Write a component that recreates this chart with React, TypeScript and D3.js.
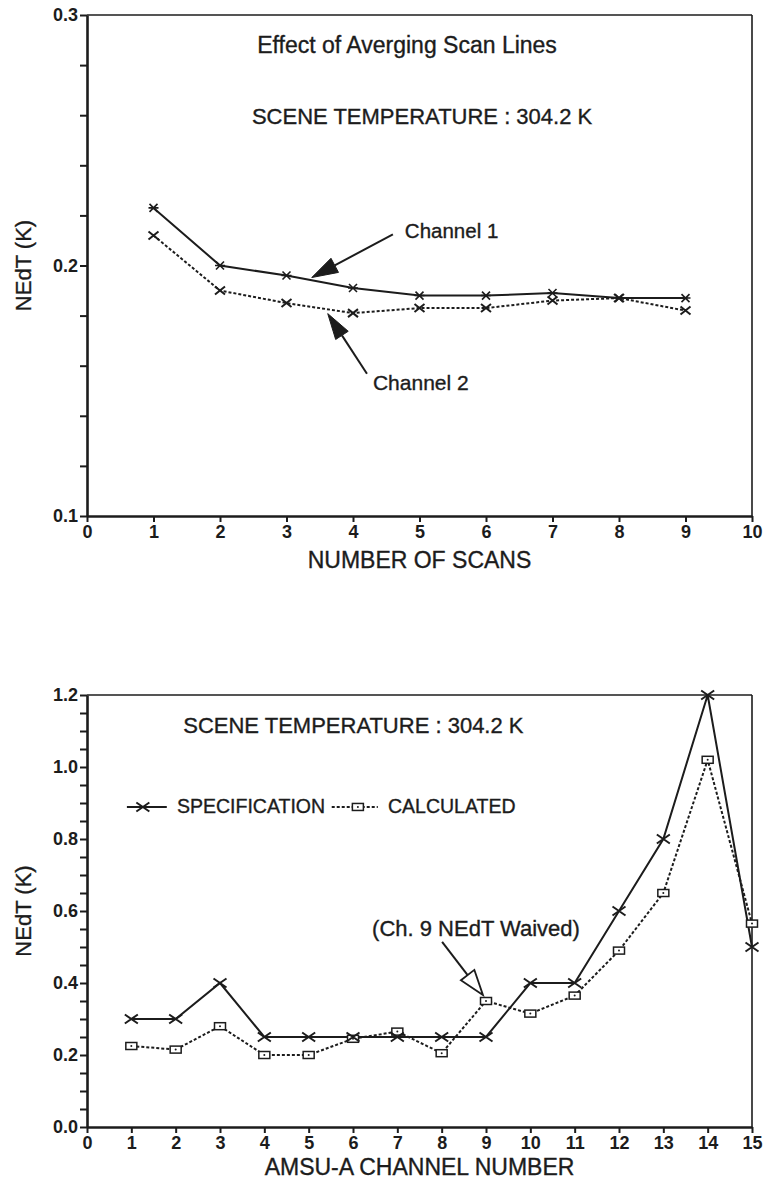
import React, { useEffect, useRef } from 'react';
import * as d3 from 'd3';

// ---------- data: top panel ----------
const scans = [1, 2, 3, 4, 5, 6, 7, 8, 9];
const channel1 = [0.223, 0.2, 0.196, 0.191, 0.188, 0.188, 0.189, 0.187, 0.187];
const channel2 = [0.212, 0.19, 0.185, 0.181, 0.183, 0.183, 0.186, 0.187, 0.182];
const topXTicks = [0, 1, 2, 3, 4, 5, 6, 7, 8, 9, 10];
const topYTicks = [0.1, 0.12, 0.14, 0.16, 0.18, 0.2, 0.22, 0.24, 0.26, 0.28, 0.3];
const topYLabels = [0.1, 0.2, 0.3];

// ---------- data: bottom panel ----------
const amsuChannels = [1, 2, 3, 4, 5, 6, 7, 8, 9, 10, 11, 12, 13, 14, 15];
const specification = [0.3, 0.3, 0.4, 0.25, 0.25, 0.25, 0.25, 0.25, 0.25, 0.4, 0.4, 0.6, 0.8, 1.2, 0.5];
const calculated = [0.225, 0.215, 0.28, 0.2, 0.2, 0.245, 0.265, 0.205, 0.35, 0.315, 0.365, 0.49, 0.65, 1.02, 0.565];
const botXTicks = [0, 1, 2, 3, 4, 5, 6, 7, 8, 9, 10, 11, 12, 13, 14, 15];
const botYTicks = [0, 0.05, 0.1, 0.15, 0.2, 0.25, 0.3, 0.35, 0.4, 0.45, 0.5, 0.55, 0.6, 0.65, 0.7, 0.75, 0.8, 0.85, 0.9, 0.95, 1.0, 1.05, 1.1, 1.15, 1.2];
const botYLabels = [0, 0.2, 0.4, 0.6, 0.8, 1.0, 1.2];

const INK = '#1c1c1c';
const FONT = '"Liberation Sans", Arial, Helvetica, sans-serif';

type Sel = d3.Selection<SVGGElement, unknown, null, undefined>;

function drawAxes(g: Sel, x: d3.ScaleLinear<number, number>, y: d3.ScaleLinear<number, number>,
  xTicks: number[], yTicks: number[], yLabels: number[], fmt: (v: number) => string,
  xTitle: string, xTitleDy: number, yTitle: string, yTitleX: number) {
  const [x0, x1] = x.range();
  const [y0, y1] = y.range(); // y0 bottom, y1 top
  const isLabel = (v: number) => yLabels.some(l => Math.abs(l - v) < 1e-9);

  // frame top & right
  g.append('line').attr('x1', x0).attr('x2', x1).attr('y1', y1).attr('y2', y1)
    .attr('stroke', INK).attr('stroke-width', 1.6);
  g.append('line').attr('x1', x1).attr('x2', x1).attr('y1', y1).attr('y2', y0)
    .attr('stroke', INK).attr('stroke-width', 1.6);

  const ax = g.append('g').attr('transform', `translate(0,${y0})`)
    .call(d3.axisBottom(x).tickValues(xTicks).tickSize(6).tickSizeOuter(0).tickPadding(3).tickFormat(d3.format('d')));
  const ay = g.append('g').attr('transform', `translate(${x0},0)`)
    .call(d3.axisLeft(y).tickValues(yTicks).tickSize(7).tickSizeOuter(0).tickPadding(2)
      .tickFormat((d: any) => (isLabel(+d) ? fmt(+d) : '')));
  [ax, ay].forEach(a => {
    a.select('.domain').attr('stroke', INK).attr('stroke-width', 2.6);
    a.selectAll('.tick line').attr('stroke', INK).attr('stroke-width', 2);
    a.selectAll('.tick text').attr('fill', INK).attr('font-family', FONT)
      .attr('font-size', 18).attr('font-weight', 'bold');
  });

  g.append('text').attr('x', (x0 + x1) / 2).attr('y', y0 + xTitleDy).attr('text-anchor', 'middle')
    .attr('font-family', FONT).attr('font-size', 23).attr('fill', INK)
    .attr('stroke', INK).attr('stroke-width', 0.35).text(xTitle);
  g.append('text').attr('transform', `translate(${yTitleX},${(y0 + y1) / 2}) rotate(-90)`)
    .attr('text-anchor', 'middle').attr('font-family', FONT).attr('font-size', 22).attr('fill', INK)
    .attr('stroke', INK).attr('stroke-width', 0.35).text(yTitle);
}

function arrow(g: Sel, tail: [number, number], tip: [number, number], len: number, hw: number, filled: boolean) {
  const dx = tip[0] - tail[0], dy = tip[1] - tail[1];
  const d = Math.hypot(dx, dy);
  const ux = dx / d, uy = dy / d;
  const nx = -uy, ny = ux;
  const bx = tip[0] - ux * len, by = tip[1] - uy * len;
  g.append('line').attr('x1', tail[0]).attr('y1', tail[1]).attr('x2', bx).attr('y2', by)
    .attr('stroke', INK).attr('stroke-width', 2);
  g.append('path')
    .attr('d', `M${tip[0]},${tip[1]}L${bx + nx * hw},${by + ny * hw}L${bx - nx * hw},${by - ny * hw}Z`)
    .attr('fill', filled ? INK : '#fff').attr('stroke', INK).attr('stroke-width', filled ? 1 : 1.8)
    .attr('stroke-linejoin', 'miter');
}

function label(g: Sel, x: number, y: number, text: string, size: number) {
  g.append('text').attr('x', x).attr('y', y).attr('font-family', FONT).attr('font-size', size)
    .attr('fill', INK).attr('stroke', INK).attr('stroke-width', 0.35).text(text);
}

export default function App() {
  const ref = useRef<SVGSVGElement>(null);

  useEffect(() => {
    const svg = d3.select(ref.current!);
    svg.selectAll('*').remove();
    const root = svg.append('g') as Sel;

    // ================= TOP PANEL =================
    const tx = d3.scaleLinear().domain([0, 10]).range([87, 752]);
    const ty = d3.scaleLinear().domain([0.1, 0.3]).range([516, 15]);
    const gt = root.append('g') as Sel;
    drawAxes(gt, tx, ty, topXTicks, topYTicks, topYLabels, d3.format('.1f'),
      'NUMBER OF SCANS', 52, 'NEdT (K)', 31);

    const lineT = d3.line<number>().x((_, i) => tx(scans[i]));
    gt.append('path').attr('d', lineT.y(v => ty(v))(channel2)).attr('fill', 'none')
      .attr('stroke', INK).attr('stroke-width', 2).attr('stroke-dasharray', '3,2');
    gt.append('path').attr('d', lineT.y(v => ty(v))(channel1)).attr('fill', 'none')
      .attr('stroke', INK).attr('stroke-width', 2);

    // markers: channel 1 asterisks, channel 2 crosses
    scans.forEach((s, i) => {
      const cx = tx(s), cy = ty(channel1[i]);
      gt.append('path').attr('d', `M${cx - 4},${cy - 4}L${cx + 4},${cy + 4}M${cx - 4},${cy + 4}L${cx + 4},${cy - 4}M${cx - 5},${cy}L${cx + 5},${cy}`)
        .attr('stroke', INK).attr('stroke-width', 1.6).attr('fill', 'none');
      const cx2 = tx(s), cy2 = ty(channel2[i]);
      gt.append('path').attr('d', `M${cx2 - 5},${cy2 - 4}L${cx2 + 5},${cy2 + 4}M${cx2 - 5},${cy2 + 4}L${cx2 + 5},${cy2 - 4}`)
        .attr('stroke', INK).attr('stroke-width', 2).attr('fill', 'none');
    });

    label(gt, tx(2.56), ty(0.2848), 'Effect of Averging Scan Lines', 23);
    label(gt, tx(2.48), ty(0.2564), 'SCENE TEMPERATURE : 304.2 K', 22);
    label(gt, tx(4.78), ty(0.2108), 'Channel 1', 20.5);
    label(gt, tx(4.3), ty(0.1504), 'Channel 2', 21);
    arrow(gt, [tx(4.6), ty(0.2124)], [tx(3.38), ty(0.1952)], 26, 8, true);
    arrow(gt, [tx(4.21), ty(0.1568)], [tx(3.62), ty(0.1808)], 26, 7.5, true);

    // ================= BOTTOM PANEL =================
    const bx = d3.scaleLinear().domain([0, 15]).range([87, 752]);
    const by = d3.scaleLinear().domain([0, 1.2]).range([1127, 695]);
    const gb = root.append('g') as Sel;
    drawAxes(gb, bx, by, botXTicks, botYTicks, botYLabels, d3.format('.1f'),
      'AMSU-A CHANNEL NUMBER', 48, 'NEdT (K)', 31);

    const lineB = d3.line<number>().x((_, i) => bx(amsuChannels[i]));
    gb.append('path').attr('d', lineB.y(v => by(v))(calculated)).attr('fill', 'none')
      .attr('stroke', INK).attr('stroke-width', 2).attr('stroke-dasharray', '3,2');
    gb.append('path').attr('d', lineB.y(v => by(v))(specification)).attr('fill', 'none')
      .attr('stroke', INK).attr('stroke-width', 2);

    const xMark = (g: Sel, cx: number, cy: number) =>
      g.append('path').attr('d', `M${cx - 6.5},${cy - 4.5}L${cx + 6.5},${cy + 4.5}M${cx - 6.5},${cy + 4.5}L${cx + 6.5},${cy - 4.5}`)
        .attr('stroke', INK).attr('stroke-width', 2).attr('fill', 'none');
    const sqMark = (g: Sel, cx: number, cy: number) => {
      g.append('rect').attr('x', cx - 5.5).attr('y', cy - 3.5).attr('width', 11).attr('height', 7)
        .attr('fill', '#fff').attr('stroke', INK).attr('stroke-width', 1.5);
      g.append('circle').attr('cx', cx).attr('cy', cy).attr('r', 1).attr('fill', INK);
    };
    amsuChannels.forEach((c, i) => sqMark(gb, bx(c), by(calculated[i])));
    amsuChannels.forEach((c, i) => xMark(gb, bx(c), by(specification[i])));

    label(gb, bx(2.17), by(1.094), 'SCENE TEMPERATURE : 304.2 K', 22);
    // legend
    gb.append('line').attr('x1', bx(0.9)).attr('x2', bx(1.8)).attr('y1', by(0.889)).attr('y2', by(0.889))
      .attr('stroke', INK).attr('stroke-width', 2);
    xMark(gb, bx(1.26), by(0.889));
    label(gb, bx(2.03), by(0.872), 'SPECIFICATION', 19.5);
    gb.append('line').attr('x1', bx(5.52)).attr('x2', bx(6.56)).attr('y1', by(0.889)).attr('y2', by(0.889))
      .attr('stroke', INK).attr('stroke-width', 2).attr('stroke-dasharray', '3,2');
    sqMark(gb, bx(6.11), by(0.889));
    label(gb, bx(6.79), by(0.872), 'CALCULATED', 19.5);

    label(gb, bx(6.43), by(0.53), '(Ch. 9 NEdT Waived)', 22);
    arrow(gb, [bx(8.01), by(0.514)], [bx(8.93), by(0.367)], 25, 8.5, false);
  }, []);

  return (
    <svg ref={ref} width={764} height={1181}
      style={{ position: 'absolute', left: 0, top: 0, background: '#fff' }} />
  );
}
